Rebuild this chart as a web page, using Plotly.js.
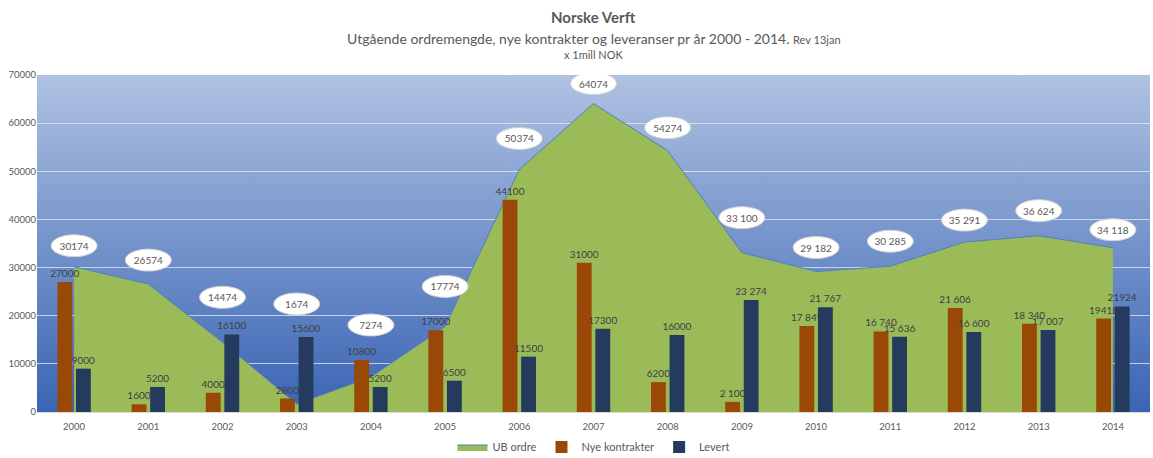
<!DOCTYPE html>
<html>
<head>
<meta charset="utf-8">
<script src="https://cdn.plot.ly/plotly-3.0.1.min.js"></script>
<style>
  html, body { margin: 0; padding: 0; background: #fff; }
  #chart { width: 1153px; height: 458px; }
</style>
</head>
<body>
<div id="chart"></div>
<script>
var years = ['2000', '2001', '2002', '2003', '2004', '2005', '2006', '2007',
             '2008', '2009', '2010', '2011', '2012', '2013', '2014'];

var ub_ordre = [30174, 26574, 14474, 1674, 7274, 17774, 50374, 64074,
                54274, 33100, 29182, 30285, 35291, 36624, 34118];
var ub_labels = ['30174', '26574', '14474', '1674', '7274', '17774', '50374', '64074',
                 '54274', '33 100', '29 182', '30 285', '35 291', '36 624', '34 118'];

var nye_kontrakter = [27000, 1600, 4000, 2800, 10800, 17000, 44100, 31000,
                      6200, 2100, 17849, 16740, 21606, 18340, 19418];
var nye_labels = ['27000', '1600', '4000', '2800', '10800', '17000', '44100', '31000',
                  '6200', '2 100', '17 849', '16 740', '21 606', '18 340', '19418'];

var levert = [9000, 5200, 16100, 15600, 5200, 6500, 11500, 17300,
              16000, 23274, 21767, 15636, 16600, 17007, 21924];
var levert_labels = ['9000', '5200', '16100', '15600', '5200', '6500', '11500', '17300',
                     '16000', '23 274', '21 767', '15 636', '16 600', '17 007', '21924'];

// how far (px) each bubble sits above its point, as placed in the original
var bubbleLift = [21, 24, 45, 100, 52, 40, 31, 20, 23, 35, 24, 25, 22, 25, 18];

var font = 'Lato, "Open Sans", sans-serif';
var grey = '#595959';

var W = 1153, H = 458;
var margin = {l: 37, r: 3, t: 75, b: 46, autoexpand: false};
var yMax = 70000;
var unitsPerPx = yMax / (H - margin.t - margin.b);
var catPerPx = years.length / (W - margin.l - margin.r);

var ub = {
  x: years,
  y: ub_ordre,
  name: 'UB ordre',
  type: 'scatter',
  mode: 'lines',
  fill: 'tozeroy',
  fillcolor: '#9BBB59',
  line: {color: '#4F81BD', width: 1},
  xaxis: 'x',
  yaxis: 'y'
};

var nye = {
  x: years,
  y: nye_kontrakter,
  name: 'Nye kontrakter',
  type: 'bar',
  marker: {color: '#9A4806'},
  text: nye_labels,
  textposition: 'outside',
  constraintext: 'none',
  cliponaxis: false,
  textfont: {family: font, size: 10, color: '#404040'},
  xaxis: 'x2',
  yaxis: 'y2'
};

var lev = {
  x: years,
  y: levert,
  name: 'Levert',
  type: 'bar',
  marker: {color: '#243B5E'},
  text: levert_labels,
  textposition: 'outside',
  constraintext: 'none',
  cliponaxis: false,
  textfont: {family: font, size: 10, color: '#404040'},
  xaxis: 'x2',
  yaxis: 'y2'
};

// white bubbles with the UB ordre values
var shapes = [];
for (var i = 0; i < years.length; i++) {
  shapes.push({
    type: 'circle',
    xref: 'x', yref: 'y',
    x0: i - 23 * catPerPx, x1: i + 23 * catPerPx,
    y0: ub_ordre[i] + (bubbleLift[i] - 11) * unitsPerPx,
    y1: ub_ordre[i] + (bubbleLift[i] + 11) * unitsPerPx,
    fillcolor: '#ffffff',
    line: {color: '#D0D0D0', width: 1},
    label: {
      text: ub_labels[i],
      textposition: 'middle center',
      font: {family: font, size: 10, color: grey}
    }
  });
}

var annotations = [
  {
    xref: 'paper', yref: 'paper', x: 0.5, y: 1 + 58 / 337, yanchor: 'middle',
    text: '<b>Norske Verft</b>', showarrow: false,
    font: {family: font, size: 15, color: grey}
  },
  {
    xref: 'paper', yref: 'paper', x: 0.5, y: 1 + 37 / 337, yanchor: 'middle',
    text: 'Utgående ordremengde, nye kontrakter og leveranser pr år 2000 - 2014. <span style="font-size:11px">Rev 13jan</span>',
    showarrow: false,
    font: {family: font, size: 14, color: grey}
  },
  {
    xref: 'paper', yref: 'paper', x: 0.5, y: 1 + 20 / 337, yanchor: 'middle',
    text: 'x 1mill NOK', showarrow: false,
    font: {family: font, size: 11, color: grey}
  }
];

var bgSvg = '<svg xmlns="http://www.w3.org/2000/svg" width="100" height="100" preserveAspectRatio="none">' +
  '<defs><linearGradient id="g" x1="0" y1="0" x2="0" y2="1">' +
  '<stop offset="0" stop-color="#AFC2E2"/><stop offset="1" stop-color="#3A64B4"/>' +
  '</linearGradient></defs><rect width="100" height="100" fill="url(#g)"/></svg>';

var layout = {
  width: W,
  height: H,
  margin: margin,
  paper_bgcolor: '#ffffff',
  plot_bgcolor: 'rgba(0,0,0,0)',
  font: {family: font, color: grey},
  showlegend: true,
  legend: {
    orientation: 'h',
    x: 0.5, xanchor: 'center',
    y: -35 / 337, yanchor: 'middle',
    font: {family: font, size: 11, color: grey},
    itemwidth: 30,
    traceorder: 'normal'
  },
  barmode: 'group',
  bargap: 0.5,
  bargroupgap: 0.2,
  xaxis: {
    type: 'category',
    range: [-0.5, 14.5],
    showgrid: false,
    showline: true,
    linecolor: '#D9D9D9',
    linewidth: 1,
    ticks: '',
    ticklabelstandoff: 6,
    tickfont: {family: font, size: 9.5, color: grey},
    fixedrange: true
  },
  yaxis: {
    range: [0, yMax],
    dtick: 10000,
    tickformat: 'd',
    showgrid: true,
    gridcolor: 'rgba(230,236,245,0.75)',
    gridwidth: 1,
    zeroline: false,
    showline: false,
    ticks: '',
    tickfont: {family: font, size: 9.5, color: grey},
    fixedrange: true
  },
  xaxis2: {
    type: 'category',
    overlaying: 'x',
    range: [-0.5, 14.5],
    showgrid: false,
    showticklabels: false,
    ticks: '',
    fixedrange: true
  },
  yaxis2: {
    overlaying: 'y',
    range: [0, yMax],
    showgrid: false,
    zeroline: false,
    showticklabels: false,
    ticks: '',
    fixedrange: true
  },
  images: [{
    source: 'data:image/svg+xml;charset=utf-8,' + encodeURIComponent(bgSvg),
    xref: 'paper', yref: 'paper',
    x: 0, y: 1, sizex: 1, sizey: 1,
    xanchor: 'left', yanchor: 'top',
    sizing: 'stretch',
    layer: 'below'
  }],
  shapes: shapes,
  annotations: annotations
};

Plotly.newPlot('chart', [ub, nye, lev], layout, {displayModeBar: false, staticPlot: true});
</script>
</body>
</html>
